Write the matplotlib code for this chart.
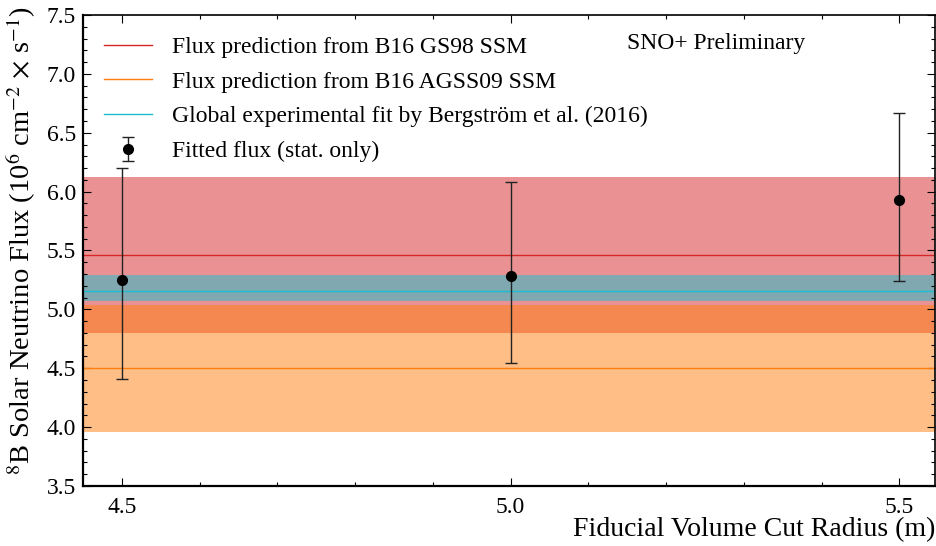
import matplotlib
matplotlib.use("Agg")
import matplotlib.pyplot as plt
from matplotlib.ticker import MultipleLocator

plt.rcParams['font.family'] = ['Liberation Serif', 'DejaVu Serif']
plt.rcParams['mathtext.fontset'] = 'stix'

# Model predictions: (central, lower error, upper error)
gs98 = (5.46, 0.66, 0.66)
agss09 = (4.50, 0.54, 0.54)
bergstrom = (5.16, 0.09, 0.13)

# Fitted flux points
radius = [4.5, 5.0, 5.5]
flux = [5.25, 5.28, 5.93]
err_low = [0.84, 0.74, 0.69]
err_high = [0.95, 0.80, 0.74]

x_ticks = [4.5, 5.0, 5.5]
y_ticks = [3.5, 4.0, 4.5, 5.0, 5.5, 6.0, 6.5, 7.0, 7.5]

fig = plt.figure(figsize=(9.37, 5.46), dpi=100)
ax = fig.add_axes([0.0886, 0.110, 0.9094, 0.8625])

xlim = (4.45, 5.546)
red = '#d62728'
orange = '#ff7f0e'
cyan = '#17becf'

for (c, lo, hi), col, lab in [
    (gs98, red, 'Flux prediction from B16 GS98 SSM'),
    (agss09, orange, 'Flux prediction from B16 AGSS09 SSM'),
    (bergstrom, cyan, u'Global experimental fit by Bergstr\u00f6m et al. (2016)'),
]:
    ax.fill_between(xlim, [c - lo] * 2, [c + hi] * 2, color=col, alpha=0.5, lw=0)
    ax.plot(xlim, [c, c], color=col, lw=1.0, label=lab)

ax.errorbar(radius, flux, yerr=[err_low, err_high], fmt='o', color='black',
            ecolor='#222222', elinewidth=1.0, capsize=4, capthick=1.0,
            markersize=7, label='Fitted flux (stat. only)')

ax.set_xlim(*xlim)
ax.set_ylim(3.5, 7.5)
ax.set_xticks(x_ticks)
ax.set_yticks(y_ticks)
ax.xaxis.set_minor_locator(MultipleLocator(0.1))
ax.yaxis.set_minor_locator(MultipleLocator(0.1))
ax.tick_params(which='both', direction='in', top=True, right=True, labelsize=17)
ax.tick_params(which='major', length=6, width=0.8)
ax.tick_params(which='minor', length=3, width=0.8)
ax.tick_params(axis='x', pad=8)
ax.tick_params(axis='y', pad=5)
for s in ['left', 'bottom']:
    ax.spines[s].set_linewidth(1.6)
for s in ['top', 'right']:
    ax.spines[s].set_linewidth(1.2)

ax.set_xlabel('Fiducial Volume Cut Radius (m)', fontsize=20, loc='right', labelpad=-1)
ax.set_ylabel(r'$^{8}$B Solar Neutrino Flux (10$^{6}$ cm$^{-2}$ $\times$ s$^{-1}$)', fontsize=20.5)
ax.yaxis.set_label_coords(-0.053, 0.52)

ax.text(0.638, 0.94, 'SNO+ Preliminary', transform=ax.transAxes, fontsize=17,
        ha='left', va='center')

ax.legend(loc='upper left', frameon=False, fontsize=17, handlelength=2.03,
          handletextpad=0.85, labelspacing=0.56)

fig.savefig('out.png', dpi=100)
